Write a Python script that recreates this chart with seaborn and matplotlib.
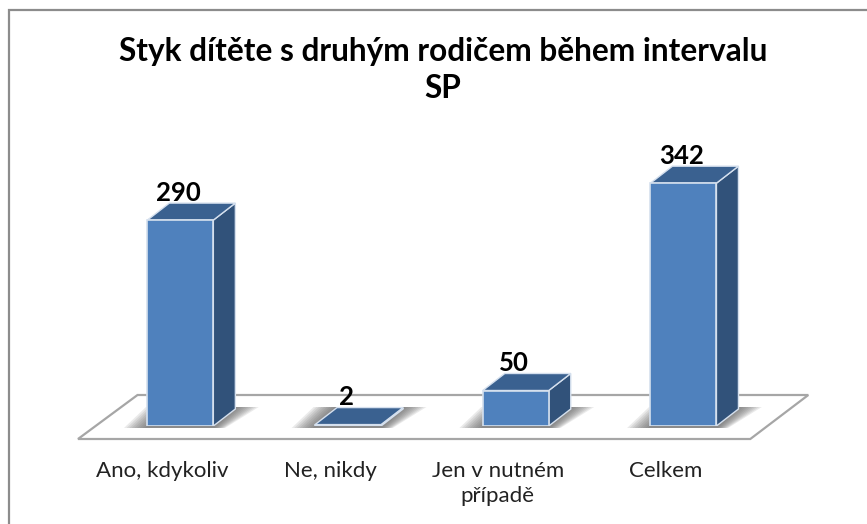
import matplotlib
matplotlib.use("Agg")
import matplotlib.pyplot as plt
from matplotlib.patches import Polygon, Rectangle
from matplotlib.transforms import ScaledTranslation
import seaborn as sns

categories = ["Ano, kdykoliv", "Ne, nikdy", "Jen v nutném\npřípadě", "Celkem"]
values = [290, 2, 50, 342]
title = "Styk dítěte s druhým rodičem během intervalu\nSP"

W, H = 867, 524
FRONT, SIDE, TOP = "#4F81BD", "#31527A", "#3A6190"
EDGE = "#D5E0EE"

sns.set_theme(style="white")
plt.rcParams["font.family"] = ["Lato", "DejaVu Sans"]

fig = plt.figure(figsize=(W / 100, H / 100), dpi=100, facecolor="white")
# axes region in pixels: categories span 96..767, value 0 at y=426
PX_PER_CAT, PX_PER_VAL = 167.7, 0.71
left, base = 96.5, 426.0
ymax = 400
ax = fig.add_axes([left / W, (H - base) / H, 4 * PX_PER_CAT / W, ymax * PX_PER_VAL / H])

BAR_W = 66 / PX_PER_CAT
sns.barplot(x=categories, y=values, color=FRONT, saturation=1, width=BAR_W,
            edgecolor=EDGE, linewidth=1.2, ax=ax, zorder=5)
ax.set_xlim(-0.5, 3.5)
ax.set_ylim(0, ymax)
sns.despine(ax=ax, left=True, bottom=True)
ax.set_yticks([])
ax.set_xlabel("")
ax.set_ylabel("")
ax.set_facecolor("none")

DX, DY = 22 / PX_PER_CAT, 17 / PX_PER_VAL
px_x, px_y = 1 / PX_PER_CAT, 1 / PX_PER_VAL

# floor, derived from the category range
floor_low = -13 * px_y
floor = Polygon([(-0.5 - 18.5 * px_x, floor_low), (3.5 - 17 * px_x, floor_low),
                 (3.5 + 41 * px_x, 31 * px_y), (-0.5 + 41 * px_x, 31 * px_y)],
                closed=True, facecolor="white", edgecolor="#A6A6A6", linewidth=1.6,
                zorder=1, clip_on=False)
ax.add_patch(floor)

for i, v in enumerate(values):
    x0, x1 = i - BAR_W / 2, i + BAR_W / 2
    # soft shadow on the floor
    for g in range(9):
        e = (9 - g) * 2.6
        ax.add_patch(Polygon([(x0 - e * px_x, -2 * px_y), (x1 + e * 0.5 * px_x, -2 * px_y),
                              (x1 + DX + e * px_x, DY + 2 * px_y),
                              (x0 + DX - e * px_x, DY + 2 * px_y)],
                             closed=True, facecolor="#5A5A5A", edgecolor="none",
                             alpha=0.12, zorder=2, clip_on=False))
    # side and top faces
    ax.add_patch(Polygon([(x1, 0), (x1 + DX, DY), (x1 + DX, v + DY), (x1, v)], closed=True,
                         facecolor=SIDE, edgecolor=EDGE, linewidth=1.0, zorder=4))
    ax.add_patch(Polygon([(x0, v), (x1, v), (x1 + DX, v + DY), (x0 + DX, v + DY)], closed=True,
                         facecolor=TOP, edgecolor=EDGE, linewidth=1.0, zorder=4))
    ax.annotate(str(v), xy=(i, v), xytext=(-1.5, 27.5 * 0.72), textcoords="offset points",
                ha="center", va="center", fontsize=18.5, fontweight="bold", color="black", zorder=6)

shift = ScaledTranslation(-18 / 100, 0, fig.dpi_scale_trans)
ax.tick_params(axis="x", length=0, pad=25, labelsize=16, labelcolor="#222222")
for lab in ax.get_xticklabels():
    lab.set_transform(lab.get_transform() + shift)
    lab.set_linespacing(1.33)

fig.text(443 / W, 1 - 70 / H, title, ha="center", va="center", fontsize=22.8,
         fontweight="bold", color="black", linespacing=1.32)

fig.add_artist(Rectangle((9 / W, -5 / H), (W + 20) / W, (H - 10 + 5) / H, transform=fig.transFigure,
                         facecolor="none", edgecolor="#8C8C8C", linewidth=1.6, zorder=0))
fig.savefig("out.png", dpi=100)
